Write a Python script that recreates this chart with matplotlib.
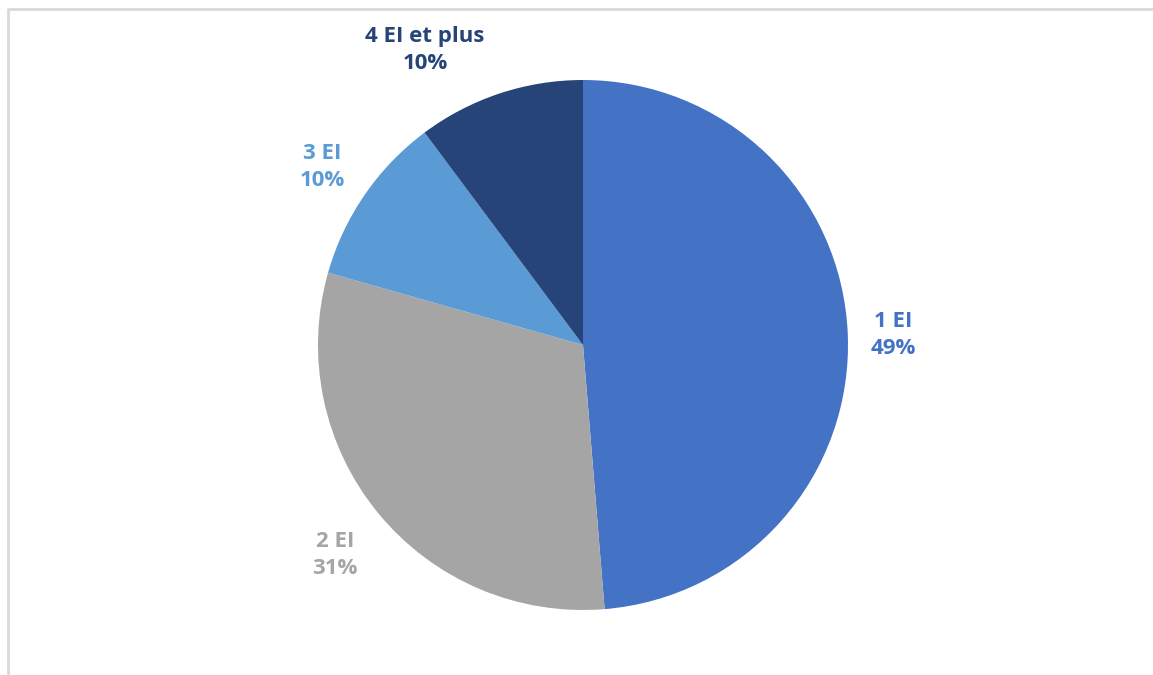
import matplotlib
matplotlib.use("Agg")
import matplotlib.pyplot as plt

categories = ["1 EI", "2 EI", "3 EI", "4 EI et plus"]
shares = [48.7, 30.7, 10.4, 10.2]
colors = ["#4472C4", "#A5A5A5", "#5B9BD5", "#264478"]
label_pos = [(893, 335), (335, 555), (322, 167), (425, 50)]

W, H = 1153, 675
fig = plt.figure(figsize=(W / 100, H / 100), dpi=100)
ax = fig.add_axes([0, 0, 1, 1])

# chart frame (cropped: only top and left visible)
ax.plot([8, 8], [0, H - 9], color="#D9D9D9", lw=2, solid_capstyle="butt")
ax.plot([7, W], [H - 9, H - 9], color="#D9D9D9", lw=2, solid_capstyle="butt")

cx, cy, r = 583, H - 345, 265
wedges, _ = ax.pie(shares, colors=colors, startangle=90, counterclock=False,
                   center=(cx, cy), radius=r, frame=True,
                   wedgeprops=dict(linewidth=0))
ax.set_xlim(0, W)
ax.set_ylim(0, H)
ax.set_aspect("equal")
ax.axis("off")

total = sum(shares)
for cat, val, col, (px, py) in zip(categories, shares, colors, label_pos):
    ax.text(px, H - py, f"{cat}\n{round(val / total * 100):.0f}%", color=col,
            ha="center", va="center", fontsize=16, fontweight="bold",
            family="Open Sans", linespacing=1.4)

fig.savefig("out.png", dpi=100)
